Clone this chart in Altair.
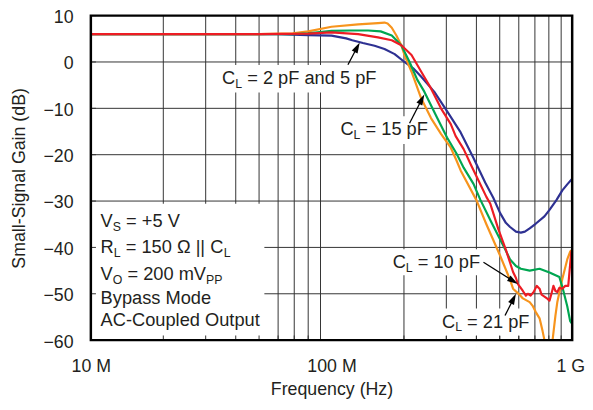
import math
import altair as alt
import pandas as pd

# ---------------- data (frequency in MHz, gain in dB) ----------------
freq_2_5pF = [10, 20, 40, 60, 69, 80, 100, 115, 122, 135, 151, 166, 183, 201, 220, 236, 267, 302,
              344, 389, 435, 470, 502, 530, 552, 584, 612, 636, 666, 705, 767, 805, 860, 910, 954, 1000]
gain_2_5pF = [6.0, 6.0, 6.0, 6.0, 5.9, 5.8, 5.7, 5.1, 4.7, 4.1, 3.5, 2.8, 1.7, 0.0, -1.5, -3.2, -6.4, -10.6,
              -15.2, -20.7, -26.0, -29.3, -32.6, -34.7, -35.6, -36.6, -36.8, -36.6, -35.9, -34.9, -33.3, -31.9,
              -29.8, -27.7, -26.4, -25.2]

freq_10pF = [10, 50, 80, 100, 129, 156, 178, 195, 215, 236, 259, 285, 313, 328, 354, 382, 410, 440, 457,
             493, 531, 568, 584, 595, 607, 624, 642, 654, 672, 692, 712, 732, 746, 767, 791, 805, 820, 836,
             852, 868, 885, 910, 936, 963, 981, 991, 1000]
gain_10pF = [6.0, 6.0, 6.1, 6.4, 6.0, 5.3, 4.7, 3.6, 1.5, -2.1, -5.7, -10.0, -13.4, -16.0, -18.8, -22.5,
             -25.8, -29.1, -30.6, -36.0, -40.6, -45.3, -46.6, -47.9, -48.5, -49.4, -50.4, -50.0, -50.4, -49.6,
             -48.3, -48.9, -50.2, -50.6, -51.1, -51.5, -50.0, -48.3, -49.4, -49.6, -48.7, -48.9, -48.3, -48.3,
             -43.6, -41.1, -40.4]

freq_15pF = [10, 69, 80, 100, 120, 142, 160, 178, 195, 211, 227, 243, 275, 302, 331, 354, 389, 416, 461,
             502, 531, 552, 584, 612, 666, 732, 805, 885, 910, 954, 981, 1000]
gain_15pF = [6.0, 6.0, 6.2, 6.7, 6.8, 6.8, 6.6, 5.7, 3.6, 0.0, -3.8, -6.4, -12.1, -16.3, -19.8, -22.8,
             -26.3, -29.8, -34.5, -38.3, -40.8, -42.6, -44.0, -44.6, -45.0, -44.6, -45.4, -46.4, -48.5,
             -52.7, -55.9, -56.5]

freq_21pF = [10, 50, 69, 80, 100, 129, 156, 166, 171, 178, 186, 195, 201, 215, 236, 259, 285, 313, 331,
             344, 400, 440, 483, 502, 552, 568, 607, 624, 666, 685, 705, 732, 753, 767, 780, 815, 828, 852,
             868, 910, 954, 981, 1000]
gain_21pF = [6.0, 6.0, 6.2, 6.6, 7.6, 8.1, 8.4, 8.5, 8.3, 7.4, 5.7, 3.6, 1.5, -2.1, -7.9, -12.1, -15.5,
             -18.5, -21.3, -23.4, -29.8, -35.0, -39.8, -41.8, -47.0, -48.9, -50.3, -51.0, -51.8, -52.6,
             -53.9, -55.3, -58.0, -60.0, -63.0, -63.0, -60.2, -54.7, -51.7, -46.8, -42.6, -40.9, -40.5]

series_names = ["2 pF and 5 pF", "21 pF", "15 pF", "10 pF"]
series_colors = ["#2E3192", "#F7941D", "#00A651", "#ED1C24"]
series_freqs = [freq_2_5pF, freq_21pF, freq_15pF, freq_10pF]
series_gains = [gain_2_5pF, gain_21pF, gain_15pF, gain_10pF]

x_label_values = [10, 100, 1000]
y_label_values = [-60, -50, -40, -30, -20, -10, 0, 10]
grid_freqs = [20, 30, 40, 50, 60, 70, 80, 90, 200, 300, 400, 500, 600, 700, 800, 900]
grid_gains = [-50, -40, -30, -20, -10, 0]

# annotation backgrounds (f0, f1, g0, g1)
box_f0 = [31.9, 104.5, 174.5, 279.7, 10]
box_f1 = [158.8, 254.5, 427.7, 666.5, 52.6]
box_g0 = [-0.64, -11.7, -40.4, -53.2, -30.6]
box_g1 = [-6.6, -17.7, -46.0, -59.1, -60]

# arrows: tail -> tip
arrow_tail_f = [117, 211, 428, 526]
arrow_tail_g = [-0.6, -13.2, -43.2, -54.7]
arrow_tip_f = [131, 243, 595, 584]
arrow_tip_g = [4.2, -7.0, -47.9, -50.0]

# labels: anchor (left, middle) and rich text parts (text, is_subscript)
label_f = [35.1, 108.9, 179.5, 287.7, 10.98, 10.98, 10.98, 10.98, 10.98]
label_g = [-3.4, -14.5, -43.2, -56.0, -34.3, -40.0, -45.7, -50.9, -55.7]
label_parts = [
    [("C", 0), ("L", 1), (" = 2 pF and 5 pF", 0)],
    [("C", 0), ("L", 1), (" = 15 pF", 0)],
    [("C", 0), ("L", 1), (" = 10 pF", 0)],
    [("C", 0), ("L", 1), (" = 21 pF", 0)],
    [("V", 0), ("S", 1), (" = +5 V", 0)],
    [("R", 0), ("L", 1), (" = 150 \u03a9 || C", 0), ("L", 1)],
    [("V", 0), ("O", 1), (" = 200 mV", 0), ("PP", 1)],
    [("Bypass Mode", 0)],
    [("AC-Coupled Output", 0)],
]

# ---------------- styling ----------------
FONT = "Liberation Sans"
INK = "#231F20"
FS = 18
FS_NOTE = 18.5
SUB = 12.5
W_PLOT, H_PLOT = 488, 329

WIDTHS = {' ': 278, '=': 584, '+': 584, '-': 333, '|': 260, '\u03a9': 768, 'A': 667, 'B': 667,
          'C': 722, 'F': 611, 'L': 556, 'M': 833, 'O': 778, 'P': 667, 'R': 722, 'S': 667, 'V': 667,
          'a': 556, 'd': 556, 'e': 556, 'l': 222, 'm': 833, 'n': 556, 'o': 556, 'p': 556, 's': 500,
          't': 278, 'u': 556, 'y': 500}


def text_width(s, size):
    return sum(WIDTHS.get(c, 556) for c in s) * size / 1000.0


x_axis = alt.Axis(values=x_label_values,
                  labelExpr="datum.value == 10 ? '10 M' : (datum.value == 100 ? '100 M' : '1 G')",
                  title="Frequency (Hz)", grid=False, ticks=False, tickSize=0, domain=False,
                  labelPadding=18, labelFlush=False, labelOverlap=False,
                  labelOffset={"condition": {"test": "datum.value == 1000", "value": -2}, "value": 0},
                  titleY=50, titleBaseline="middle")
y_axis = alt.Axis(values=y_label_values, title="Small-Signal Gain (dB)", grid=False, ticks=False,
                  tickSize=0, domain=False, labelPadding=18, labelFlush=False, labelOverlap=False,
                  labelOffset=2, titleX=-72, titleBaseline="middle")


def X(field):
    return alt.X(field, scale=alt.Scale(type="log", domain=[10, 1000]), axis=x_axis)


def Y(field):
    return alt.Y(field, scale=alt.Scale(domain=[-60, 10]), axis=y_axis)


layers = []

# grid
layers.append(alt.Chart(pd.DataFrame({"f": grid_freqs})).mark_rule(color="#333333", strokeWidth=1).encode(
    x=X("f:Q")))
layers.append(alt.Chart(pd.DataFrame({"g": grid_gains})).mark_rule(color="#333333", strokeWidth=1).encode(
    y=Y("g:Q")))

# white backgrounds behind annotations
boxes = pd.DataFrame({"f0": box_f0, "f1": box_f1, "g0": box_g0, "g1": box_g1})
layers.append(alt.Chart(boxes).mark_rect(color="white").encode(
    x=X("f0:Q"), x2="f1:Q", y=Y("g0:Q"), y2="g1:Q"))

# small inward ticks along the left and bottom edges
ytick = pd.DataFrame({"g": y_label_values, "f0": [10] * len(y_label_values),
                      "f1": [10.5] * len(y_label_values)})
layers.append(alt.Chart(ytick).mark_rule(color="#333333", strokeWidth=1).encode(
    x=X("f0:Q"), x2="f1:Q", y=Y("g:Q")))
xtick = pd.DataFrame({"f": grid_freqs, "g0": [-60] * len(grid_freqs), "g1": [-59] * len(grid_freqs)})
layers.append(alt.Chart(xtick).mark_rule(color="#333333", strokeWidth=1).encode(
    x=X("f:Q"), y=Y("g0:Q"), y2="g1:Q"))

# curves
for name, col, fr, gn in zip(series_names, series_colors, series_freqs, series_gains):
    df = pd.DataFrame({"f": fr, "g": gn, "i": list(range(len(fr)))})
    layers.append(alt.Chart(df).mark_line(color=col, strokeWidth=2.2, clip=True,
                                          strokeJoin="round", strokeCap="round").encode(
        x=X("f:Q"), y=Y("g:Q"), order="i:Q"))

# arrows
PX_DEC = W_PLOT / 2.0
PX_DB = H_PLOT / 70.0
HEAD = 11
rows = []
for tf, tg, hf, hg in zip(arrow_tail_f, arrow_tail_g, arrow_tip_f, arrow_tip_g):
    du = PX_DEC * (math.log10(hf) - math.log10(tf))
    dv = PX_DB * (hg - tg)
    L = math.hypot(du, dv)
    ux, uy = du / L, dv / L
    cf = 10 ** (math.log10(hf) - (HEAD / 2) * ux / PX_DEC)
    cg = hg - (HEAD / 2) * uy / PX_DB
    ang = math.degrees(math.atan2(du, dv)) % 360
    rows.append({"tf": tf, "tg": tg, "cf": cf, "cg": cg, "ang": ang})
arr = pd.DataFrame(rows)
layers.append(alt.Chart(arr).mark_rule(color="black", strokeWidth=1.3).encode(
    x=X("tf:Q"), y=Y("tg:Q"), x2="cf:Q", y2="cg:Q"))
layers.append(alt.Chart(arr).mark_point(shape="M0,-1L0.6,1L-0.6,1Z", filled=True, color="black",
                                        opacity=1, size=HEAD * HEAD).encode(
    x=X("cf:Q"), y=Y("cg:Q"), angle=alt.Angle("ang:Q", scale=None)))

# text labels (with subscripts); leading spaces are turned into offsets
for f, g, parts in zip(label_f, label_g, label_parts):
    off = 0.0
    for txt, sub in parts:
        size = SUB if sub else FS_NOTE
        stripped = txt.lstrip(" ")
        off += text_width(txt[:len(txt) - len(stripped)], size)
        layers.append(alt.Chart(pd.DataFrame({"f": [f], "g": [g], "t": [stripped]})).mark_text(
            align="left", baseline="middle", font=FONT, fontSize=size, color=INK,
            dx=round(off, 2), dy=6 if sub else 0).encode(
            x=X("f:Q"), y=Y("g:Q"), text="t:N"))
        off += text_width(stripped, size)

# frame
frame = pd.DataFrame({"f0": [10], "f1": [1000], "g0": [-60], "g1": [10]})
layers.append(alt.Chart(frame).mark_rect(fillOpacity=0, stroke="black", strokeWidth=2.5).encode(
    x=X("f0:Q"), x2="f1:Q", y=Y("g0:Q"), y2="g1:Q"))

chart = alt.layer(*layers).properties(
    width=W_PLOT, height=H_PLOT,
    autosize=alt.AutoSizeParams(type="none"),
    padding={"left": 84, "top": 5, "right": 13, "bottom": 60},
).configure_view(stroke="transparent").configure_axis(
    labelFont=FONT, titleFont=FONT, labelFontSize=FS, titleFontSize=FS, titleFontWeight="normal",
    labelColor=INK, titleColor=INK)

chart.save("out.html", embed_options={"renderer": "svg", "actions": False})
